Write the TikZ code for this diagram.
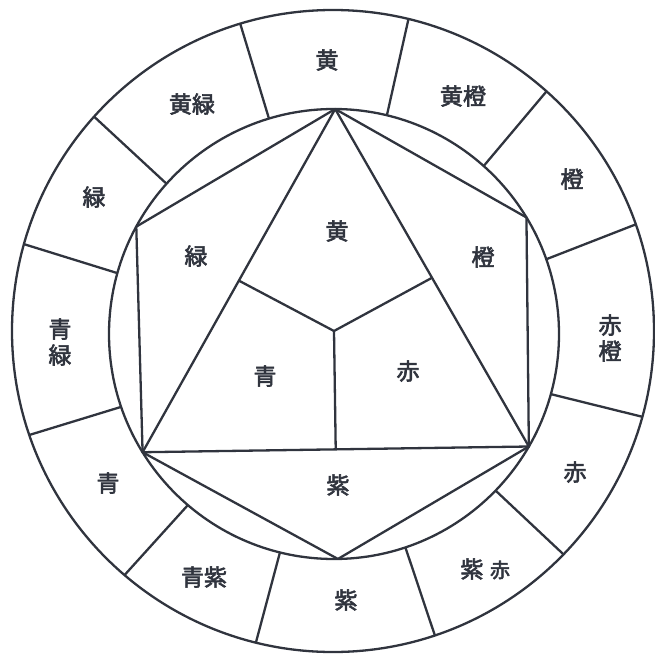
\documentclass[tikz,border=0pt]{standalone}
\usepackage{fontspec}
\newfontfamily\cjk[FakeBold=2.6]{Noto Sans CJK JP}
\usetikzlibrary{calc}
\definecolor{ink}{RGB}{48,52,62}
\begin{document}
\begin{tikzpicture}[x=1pt,y=-1pt,
  ln/.style={draw=ink, line width=2.3pt, line join=round},
  lab/.style={text=ink, font=\cjk\fontsize{23}{25}\selectfont, inner sep=0pt, align=center},
  vlab/.style={lab, font=\cjk\fontsize{23}{26}\selectfont}]
\useasboundingbox (0,0) rectangle (654,655);
% circles
\coordinate (ci) at (334,334);
\coordinate (co) at (333,331);
\draw[ln] (ci) circle[radius=225];
\draw[ln] (co) circle[radius=321];
% ring dividers
\foreach \a [count=\i] in {106.8,76.4,48.3,19.4,-15.5,-44.1,-71.5,-103.9,-130.5,-161.1,164.3,138.1} {
  \coordinate (di\i) at ({334+225*cos(\a)},{334-225*sin(\a)});
  \coordinate (do\i) at ({333+321*cos(\a)},{331-321*sin(\a)});
  \draw[ln] (di\i) -- (do\i);
}
% hexagon / triangle vertices
\coordinate (vt) at ({334+225*cos(89.7)},{334-225*sin(89.7)});
\coordinate (vur) at ({334+225*cos(31.2)},{334-225*sin(31.2)});
\coordinate (vr) at ({334+225*cos(-30)},{334-225*sin(-30)});
\coordinate (vb) at ({334+225*cos(-89)},{334-225*sin(-89)});
\coordinate (vl) at ({334+225*cos(-148.3)},{334-225*sin(-148.3)});
\coordinate (vul) at ({334+225*cos(151.5)},{334-225*sin(151.5)});
\draw[ln] (vt) -- (vur) -- (vr) -- (vb) -- (vl) -- (vul) -- cycle;
\draw[ln] (vt) -- (vr) -- (vl) -- cycle;
% inner Y
\coordinate (yc) at (334,331);
\coordinate (ml) at ($(vt)!0.5!(vl)$);
\coordinate (mr) at ($(vt)!0.5!(vr)$);
\coordinate (mb) at ($(vl)!0.5!(vr)$);
\draw[ln] (ml) -- (yc) -- (mr);
\draw[ln] (yc) -- (mb);
% inner labels
\node[lab] (iy) at (337,231) {黄};
\node[lab] (ig) at (196,256) {緑};
\node[lab] (io) at (483,257) {橙};
\node[lab] (ib) at (265,376) {青};
\node[lab] (ir) at (408,371) {赤};
\node[lab] (ip) at (338,485) {紫};
% outer labels
\node[lab] (oy) at (327,60) {黄};
\node[lab] (oyo) at (463,96) {黄橙};
\node[lab] (oo) at (572,179) {橙};
\node[vlab] (oro) at (610,338) {赤\\橙};
\node[lab] (or) at (575,472) {赤};
\node[lab] (opr1) at (472,569) {紫};
\node[text=ink, font=\cjk\fontsize{20}{22}\selectfont, inner sep=0pt] (opr2) at (500,570) {赤};
\node[lab] (op) at (346,600) {紫};
\node[lab] (obp) at (204,577) {青紫};
\node[lab] (ob) at (108,483) {青};
\node[vlab] (obg) at (60,342) {青\\緑};
\node[lab] (og) at (94,197) {緑};
\node[lab] (oyg) at (192,104) {黄緑};
\end{tikzpicture}
\end{document}
